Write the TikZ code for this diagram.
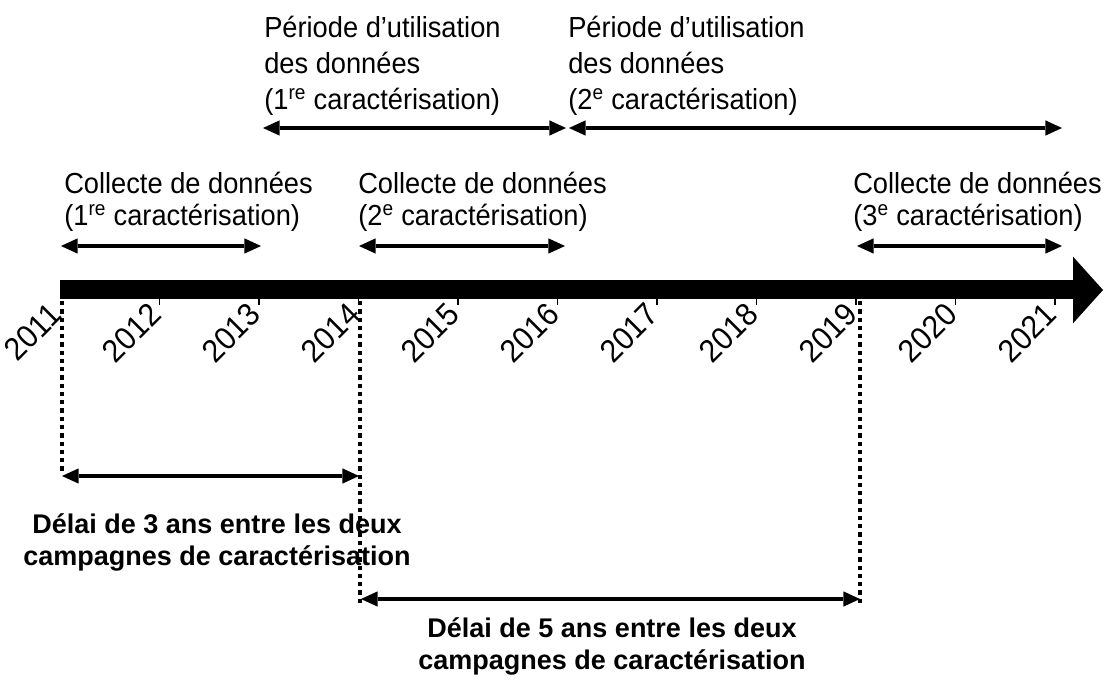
\documentclass[tikz,border=0pt]{standalone}
\usepackage{fontspec}
\setmainfont{Liberation Sans}
\newfontfamily\narrowsans{Liberation Sans}[FakeStretch=0.94]
\usepackage{tikz}
\usetikzlibrary{arrows.meta, positioning, calc}

\begin{document}
\begin{tikzpicture}[x=0.75pt, y=-0.75pt,
  span/.style={line width=3.2pt, {Triangle[length=12.5pt, width=11.5pt, line width=0pt]}-{Triangle[length=12.5pt, width=11.5pt, line width=0pt]}},
  period/.style={inner sep=0pt, align=left, anchor=south west, font=\narrowsans\fontsize{21.75}{27}\selectfont},
  collect/.style={period, font=\narrowsans\fontsize{21.75}{24.5}\selectfont},
  delay/.style={inner sep=0pt, align=center, anchor=south, font=\bfseries\fontsize{20.25}{24}\selectfont},
  year/.style={inner sep=0pt, rotate=45, anchor=east, font=\narrowsans\fontsize{24}{24}\selectfont},
  dotline/.style={line width=3.5pt, dash pattern=on 3.2pt off 3pt}]
  \useasboundingbox (0,0) rectangle (1104,684);

  \foreach \yr [count=\i from 0] in {2011,...,2021}
    \coordinate (t\yr) at ({60+99.5*\i},290);
  \coordinate (tend) at (1103,290);
  \draw[line width=14.25pt, -{Triangle[length=22.5pt, width=50pt, line width=0pt]}] (t2011) -- (tend);
  \foreach \yr in {2012,...,2021}
    \draw[line width=1.2pt] ($(t\yr)+(0,9)$) -- ($(t\yr)+(0,15)$);
  \foreach \yr in {2011,...,2021}
    \node[year] (l\yr) at ($(t\yr)+(-4,19)$) {\yr};

  \coordinate (u1) at (263,128); \coordinate (u2) at (566,128);
  \coordinate (u3) at (569,128); \coordinate (u4) at (1062,128);
  \coordinate (c1) at (61,246);  \coordinate (c2) at (261,246);
  \coordinate (c3) at (359,246); \coordinate (c4) at (565,246);
  \coordinate (c5) at (857,246); \coordinate (c6) at (1062,246);
  \coordinate (b1) at (62,476);  \coordinate (b2) at (359,476);
  \coordinate (b3) at (361,599); \coordinate (b4) at (860,599);

  \node[period] (use1) at (264,116) {Période d’utilisation\\des données\\(1\textsuperscript{re} caractérisation)};
  \node[period] (use2) at (568,116) {Période d’utilisation\\des données\\(2\textsuperscript{e} caractérisation)};
  \node[collect] (col1) at (64,232) {Collecte de données\\(1\textsuperscript{re} caractérisation)};
  \node[collect] (col2) at (358,232) {Collecte de données\\(2\textsuperscript{e} caractérisation)};
  \node[collect] (col3) at (853,232) {Collecte de données\\(3\textsuperscript{e} caractérisation)};
  \node[delay] (gap1) at (217,571) {Délai de 3 ans entre les deux\\campagnes de caractérisation};
  \node[delay] (gap2) at (612,675) {Délai de 5 ans entre les deux\\campagnes de caractérisation};

  \draw[span] (u1) -- (u2);
  \draw[span] (u3) -- (u4);
  \draw[span] (c1) -- (c2);
  \draw[span] (c3) -- (c4);
  \draw[span] (c5) -- (c6);
  \draw[span] (b1) -- (b2);
  \draw[span] (b3) -- (b4);

  \coordinate (d1a) at (62,301);  \coordinate (d1b) at (62,472);
  \coordinate (d2a) at (360,301); \coordinate (d2b) at (360,605);
  \coordinate (d3a) at (860,301); \coordinate (d3b) at (860,605);
  \draw[dotline] (d1a) -- (d1b);
  \draw[dotline] (d2a) -- (d2b);
  \draw[dotline] (d3a) -- (d3b);
\end{tikzpicture}
\end{document}
